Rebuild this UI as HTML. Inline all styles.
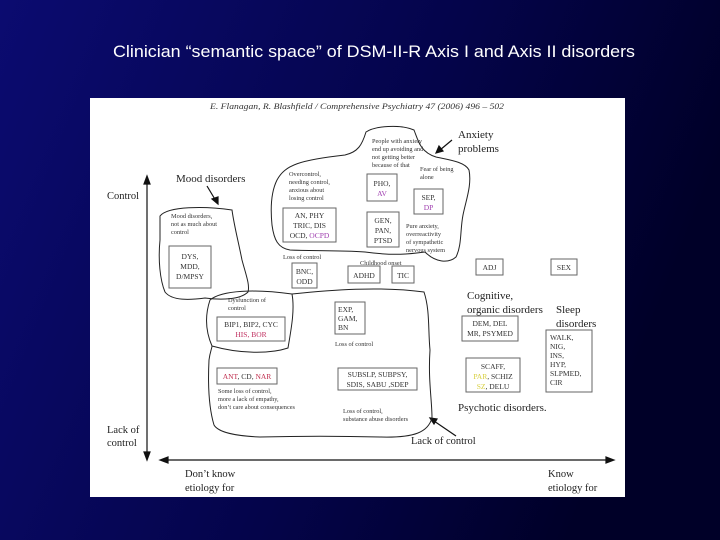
<!DOCTYPE html>
<html><head><meta charset="utf-8"><style>
html,body{margin:0;padding:0;width:720px;height:540px;overflow:hidden;background:#000040}
svg{display:block}
</style></head><body>
<svg width="720" height="540" viewBox="0 0 720 540" xmlns="http://www.w3.org/2000/svg">
<defs>
<linearGradient id="bg" x1="0" y1="0" x2="1" y2="0.3">
<stop offset="0" stop-color="#0b0b70"/><stop offset="0.6" stop-color="#04044a"/><stop offset="1" stop-color="#000028"/>
</linearGradient>
</defs>
<rect width="720" height="540" fill="url(#bg)"/>
<text x="113" y="57" fill="#fff" font-family="Liberation Sans, sans-serif" font-size="17" textLength="522" lengthAdjust="spacingAndGlyphs">Clinician “semantic space” of DSM-II-R Axis I and Axis II disorders</text>
<rect x="90" y="98" width="535" height="399" fill="#fff"/>
<g font-family="Liberation Serif, serif" fill="#333">
<text x="210" y="109" font-size="8.5" font-style="italic" textLength="294" lengthAdjust="spacingAndGlyphs">E. Flanagan, R. Blashfield / Comprehensive Psychiatry 47 (2006) 496 – 502</text>
<!-- axes -->
<g stroke="#111" stroke-width="1.2" fill="#111">
<line x1="147" y1="182" x2="147" y2="454"/>
<polygon points="147,176 144,184 150,184"/>
<polygon points="147,460 144,452 150,452"/>
<line x1="166" y1="460" x2="608" y2="460"/>
<polygon points="160,460 168,457 168,463"/>
<polygon points="614,460 606,457 606,463"/>
<line x1="207" y1="186" x2="216" y2="201"/><polygon points="218,204 212,199 218,197"/>
<line x1="452" y1="140" x2="440" y2="150"/><polygon points="436,153 439,146 443,151"/>
<line x1="456" y1="436" x2="434" y2="421"/><polygon points="430,418 437,419 434,424"/>
</g>
<g font-size="10.5" fill="#222">
<text x="107" y="199">Control</text>
<text x="107" y="433">Lack of</text><text x="107" y="446">control</text>
<text x="185" y="477">Don’t know</text><text x="185" y="491">etiology for</text>
<text x="548" y="477">Know</text><text x="548" y="491">etiology for</text>
<text x="176" y="182" font-size="11">Mood disorders</text>
<text x="458" y="138" font-size="11">Anxiety</text><text x="458" y="152" font-size="11">problems</text>
<text x="467" y="299" font-size="11">Cognitive,</text><text x="467" y="313" font-size="11">organic disorders</text>
<text x="556" y="313" font-size="11">Sleep</text><text x="556" y="327" font-size="11">disorders</text>
<text x="458" y="411" font-size="11">Psychotic disorders.</text>
<text x="411" y="444">Lack of control</text>
</g>
<!-- blobs -->
<g fill="none" stroke="#222" stroke-width="1">
<path d="M277,180 C285,165 300,160 345,155 C358,152 362,145 366,132 C375,126 400,124 414,130 C418,140 420,152 436,157 C450,160 465,162 469,170 C472,185 466,200 463,215 C460,230 462,245 456,257 C448,264 435,262 425,252 C410,254 395,256 365,252 C340,250 310,251 290,250 C278,248 274,240 272,225 C270,205 272,190 277,180 Z"/>
<path d="M160,216 C168,206 205,206 232,210 C234,225 238,240 242,260 C246,275 250,285 248,292 C240,300 220,300 205,298 C190,300 172,301 165,292 C160,280 158,260 160,240 Z"/>
<path d="M210,300 C222,290 255,289 292,294 C295,310 291,330 288,348 C270,354 240,354 212,346 C205,330 205,315 210,300 Z"/>
<path d="M292,294 C330,290 380,286 424,292 C430,310 428,330 430,350 C428,380 432,400 432,418 C428,432 415,438 380,437 C340,436 300,436 260,437 C235,436 218,432 214,425 C208,405 208,380 209,360 C210,352 212,348 212,346"/>
</g>
<!-- small texts -->
<g font-size="6.3" fill="#333">
<text x="289" y="176">Overcontrol,</text><text x="289" y="184">needing control,</text><text x="289" y="192">anxious about</text><text x="289" y="200">losing control</text>
<text x="171" y="218">Mood disorders,</text><text x="171" y="226">not as much about</text><text x="171" y="234">control</text>
<text x="372" y="143">People with anxiety</text><text x="372" y="151">end up avoiding and</text><text x="372" y="159">not getting better</text><text x="372" y="167">because of that</text>
<text x="420" y="171">Fear of being</text><text x="420" y="179">alone</text>
<text x="406" y="228">Pure anxiety,</text><text x="406" y="236">overreactivity</text><text x="406" y="244">of sympathetic</text><text x="406" y="252">nervous system</text>
<text x="283" y="259">Loss of control</text>
<text x="360" y="265">Childhood onset</text>
<text x="228" y="302">Dysfunction of</text><text x="228" y="310">control</text>
<text x="335" y="346">Loss of control</text>
<text x="218" y="393">Some loss of control,</text><text x="218" y="401">more a lack of empathy,</text><text x="218" y="409">don’t care about consequences</text>
<text x="343" y="413">Loss of control,</text><text x="343" y="421">substance abuse disorders</text>
</g>
<!-- boxes -->
<g fill="#fff" stroke="#666" stroke-width="1">
<rect x="283" y="208" width="53" height="34"/>
<rect x="169" y="246" width="42" height="42"/>
<rect x="292" y="263" width="25" height="25"/>
<rect x="348" y="266" width="32" height="17"/>
<rect x="392" y="266" width="22" height="17"/>
<rect x="367" y="174" width="30" height="27"/>
<rect x="367" y="212" width="32" height="35"/>
<rect x="414" y="189" width="29" height="25"/>
<rect x="476" y="259" width="27" height="16"/>
<rect x="551" y="259" width="26" height="16"/>
<rect x="217" y="317" width="68" height="24"/>
<rect x="335" y="302" width="30" height="32"/>
<rect x="217" y="368" width="60" height="16"/>
<rect x="338" y="368" width="79" height="22"/>
<rect x="462" y="316" width="56" height="25"/>
<rect x="546" y="330" width="46" height="62"/>
<rect x="466" y="358" width="54" height="34"/>
</g>
<g font-size="7.5" fill="#333" text-anchor="middle">
<text x="309.5" y="218">AN, PHY</text><text x="309.5" y="228">TRIC, DIS</text><text x="309.5" y="238">OCD, <tspan fill="#a040b0">OCPD</tspan></text>
<text x="190" y="259">DYS,</text><text x="190" y="269">MDD,</text><text x="190" y="279">D/MPSY</text>
<text x="304.5" y="274">BNC,</text><text x="304.5" y="284">ODD</text>
<text x="364" y="278">ADHD</text><text x="403" y="278">TIC</text>
<text x="382" y="186">PHO,</text><text x="382" y="196" fill="#a040b0">AV</text>
<text x="383" y="223">GEN,</text><text x="383" y="233">PAN,</text><text x="383" y="243">PTSD</text>
<text x="428.5" y="200">SEP,</text><text x="428.5" y="210" fill="#a040b0">DP</text>
<text x="489.5" y="270">ADJ</text><text x="564" y="270">SEX</text>
<text x="251" y="327">BIP1, BIP2, CYC</text><text x="251" y="337" fill="#c03060">HIS, BOR</text>
<text x="247" y="379"><tspan fill="#c03050">ANT</tspan>, CD, <tspan fill="#c03050">NAR</tspan></text>
<text x="377.5" y="377">SUBSLP, SUBPSY,</text><text x="377.5" y="387">SDIS, SABU ,SDEP</text>
<text x="490" y="326">DEM, DEL</text><text x="490" y="336">MR, PSYMED</text>
<text x="493" y="369">SCAFF,</text><text x="493" y="379"><tspan fill="#d8d040">PAR</tspan>, SCHIZ</text><text x="493" y="389"><tspan fill="#d8d040">SZ</tspan>, DELU</text>
</g>
<g font-size="7.5" fill="#333">
<text x="338" y="312">EXP,</text><text x="338" y="321">GAM,</text><text x="338" y="330">BN</text>
<text x="550" y="340">WALK,</text><text x="550" y="349">NIG,</text><text x="550" y="358">INS,</text><text x="550" y="367">HYP,</text><text x="550" y="376">SLPMED,</text><text x="550" y="385">CIR</text>
</g>
</g>
</svg>
</body></html>
